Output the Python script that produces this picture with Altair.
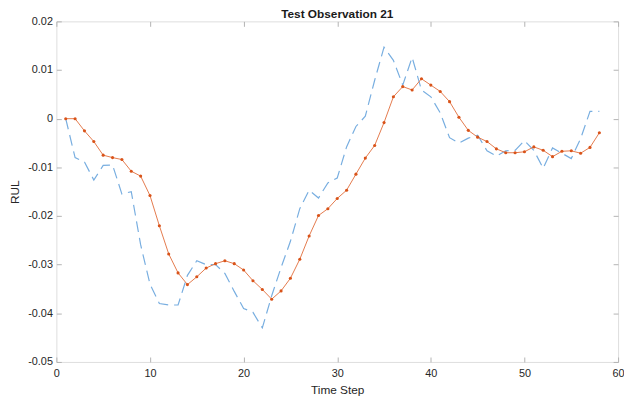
import altair as alt
import pandas as pd

# ---- data ----
time_step = list(range(1, 59))

dashed_series = [
    0.0, -0.0080, -0.0089, -0.0126, -0.0096, -0.0095, -0.0155, -0.0150, -0.0259, -0.0340,
    -0.0380, -0.0383, -0.0383, -0.0322, -0.0292, -0.0300, -0.0300, -0.0318, -0.0355, -0.0390,
    -0.0398, -0.0430, -0.0364, -0.0306, -0.0252, -0.0185, -0.0147, -0.0163, -0.0132, -0.0122,
    -0.0058, -0.0016, 0.0005, 0.0079, 0.0147, 0.0120, 0.0069, 0.0126, 0.0059, 0.0045,
    0.0012, -0.0039, -0.0050, -0.0040, -0.0034, -0.0066, -0.0077, -0.0066, -0.0065, -0.0045,
    -0.0065, -0.0102, -0.0060, -0.0071, -0.0082, -0.0041, 0.0015, 0.0015,
]

marked_series = [
    0.0, 0.0, -0.0025, -0.0047, -0.0075, -0.0080, -0.0084, -0.0108, -0.0118, -0.0158,
    -0.0220, -0.0278, -0.0317, -0.0341, -0.0325, -0.0307, -0.0298, -0.0292, -0.0298, -0.0311,
    -0.0333, -0.0351, -0.0371, -0.0354, -0.0328, -0.0289, -0.0241, -0.0199, -0.0185, -0.0164,
    -0.0147, -0.0114, -0.0081, -0.0055, -0.0008, 0.0045, 0.0066, 0.0059, 0.0082, 0.0069,
    0.0056, 0.0035, 0.0003, -0.0024, -0.0038, -0.0047, -0.0062, -0.0070, -0.0070, -0.0068,
    -0.0058, -0.0065, -0.0078, -0.0067, -0.0066, -0.0071, -0.0059, -0.0029,
]

x_ticks = [0, 10, 20, 30, 40, 50, 60]
y_ticks = [-0.05, -0.04, -0.03, -0.02, -0.01, 0.0, 0.01, 0.02]

df = pd.DataFrame({"t": time_step, "dashed": dashed_series, "marked": marked_series})

W, H = 569, 345
FONT = "Liberation Sans"
TXT = "#262626"
GRAY = "#b3b3b3"

x_scale = alt.Scale(domain=[0, 60], nice=False, zero=False)
y_scale = alt.Scale(domain=[-0.05, 0.02], nice=False, zero=False)

ylabel_expr = "datum.value < 0 ? '-' + format(-datum.value, '.2~f') : format(datum.value, '.2~f')"

base = alt.Chart(df)

# Layer 1: dashed line + labelled axes (bottom/left)
dashed = base.mark_line(color="#78aee0", strokeWidth=1.2, strokeDash=[11, 6]).encode(
    x=alt.X("t:Q", scale=x_scale,
            axis=alt.Axis(title="Time Step", values=x_ticks, ticks=False, domain=False, grid=False,
                          labelPadding=6, titlePadding=6, labelFontSize=11, titleFontSize=12,
                          labelFont=FONT, titleFont=FONT, labelColor=TXT, titleColor=TXT,
                          titleFontWeight="normal", labelFlush=False)),
    y=alt.Y("dashed:Q", scale=y_scale,
            axis=alt.Axis(title="RUL", values=y_ticks, ticks=False, domain=False, grid=False,
                          labelPadding=4, titlePadding=6, labelFontSize=11, titleFontSize=12,
                          labelFont=FONT, titleFont=FONT, labelColor=TXT, titleColor=TXT,
                          titleFontWeight="normal", labelExpr=ylabel_expr, labelFlush=False)),
)

# Layer 2: marked line + inward ticks at the bottom and left edges
line2 = base.mark_line(color="#e47a4c", strokeWidth=1).encode(
    x=alt.X("t:Q", scale=x_scale,
            axis=alt.Axis(orient="top", offset=-H, title=None, labels=False, values=x_ticks,
                          tickSize=5, tickColor=GRAY, domain=False, grid=False)),
    y=alt.Y("marked:Q", scale=y_scale,
            axis=alt.Axis(orient="right", offset=-W, title=None, labels=False, values=y_ticks,
                          tickSize=5, tickColor=GRAY, domain=False, grid=False)),
)

# Layer 3: markers + inward ticks at the top and right edges
points = base.mark_point(filled=True, size=10, color="#d95319", opacity=1).encode(
    x=alt.X("t:Q", scale=x_scale,
            axis=alt.Axis(orient="bottom", offset=-H, title=None, labels=False, values=x_ticks,
                          tickSize=5, tickColor=GRAY, domain=False, grid=False)),
    y=alt.Y("marked:Q", scale=y_scale,
            axis=alt.Axis(orient="left", offset=-W, title=None, labels=False, values=y_ticks,
                          tickSize=5, tickColor=GRAY, domain=False, grid=False)),
)

chart = (
    alt.layer(dashed, line2, points)
    .resolve_axis(x="independent", y="independent")
    .properties(
        width=W,
        height=H,
        title=alt.Title("Test Observation 21", font=FONT, fontSize=12, fontWeight="bold",
                        color="#1a1a1a", anchor="middle", baseline="bottom", offset=2, dy=20),
        autosize=alt.AutoSizeParams(type="none"),
        padding={"left": 49, "top": 11, "right": 6, "bottom": 37},
    )
    .configure_view(stroke=GRAY, strokeWidth=1)
    .configure(background="white")
)

chart.save("out.html", embed_options={"renderer": "svg", "actions": False})
